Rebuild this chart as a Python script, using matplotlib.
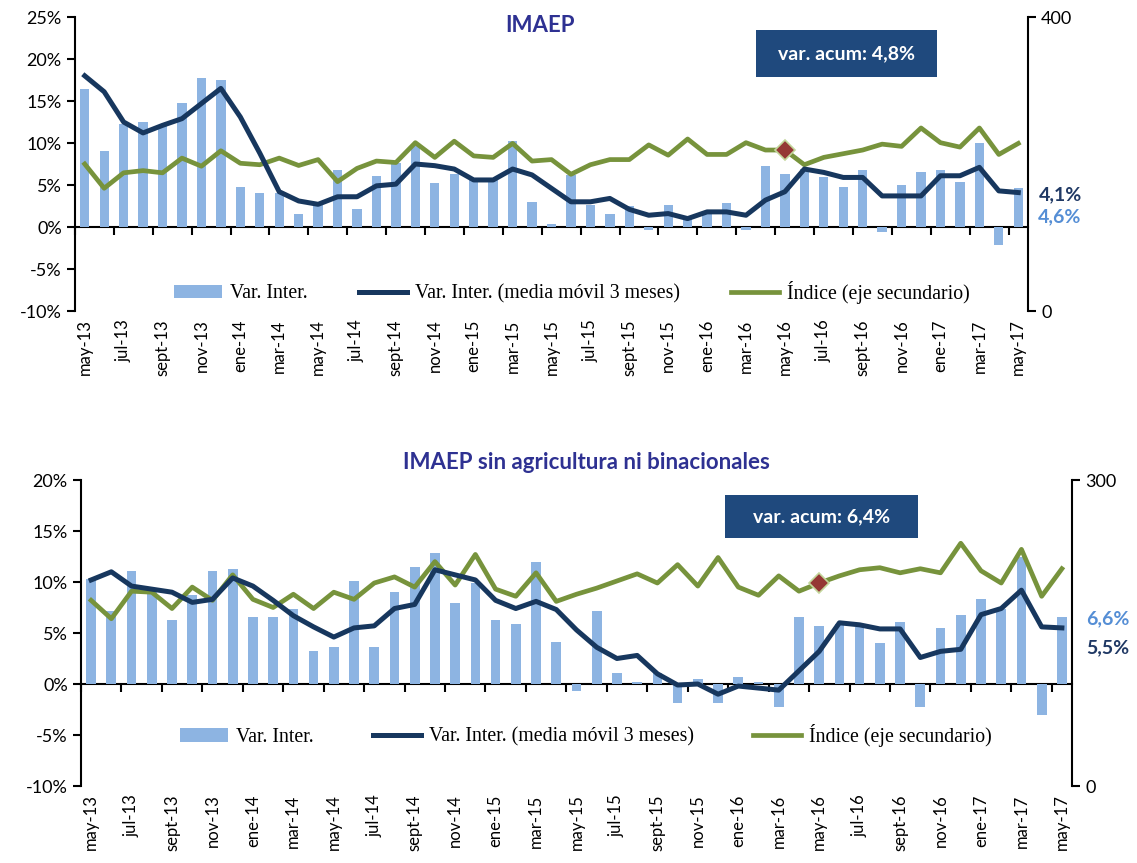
#! /usr/bin/env python
# IMAEP: variacion interanual, media movil y indice (eje secundario)
import numpy as np
import matplotlib.pyplot as plt
from matplotlib.patches import Rectangle
from matplotlib.ticker import FuncFormatter

# meses may-13 .. may-17
meses = ['may', 'jun', 'jul', 'ago', 'sept', 'oct', 'nov', 'dic', 'ene', 'feb', 'mar', 'abr']
fechas = []
anio = 13
for k in range(49):
    m = meses[k % 12]
    if m == 'ene' and k > 0:
        anio += 1
    fechas.append(m + '-' + str(anio))

# IMAEP
var_inter_1 = [16.4, 9.0, 12.3, 12.5, 12.1, 14.8, 17.7, 17.5, 4.8, 4.1, 4.0, 1.5, 2.8, 6.8, 2.1, 6.1,
               7.6, 9.6, 5.2, 6.3, 5.8, 5.6, 10.2, 3.0, 0.4, 6.2, 2.6, 1.5, 2.5, -0.3, 2.6, 1.3,
               1.8, 2.8, -0.4, 7.3, 6.3, 6.9, 5.9, 4.8, 6.8, -0.6, 5.0, 6.5, 6.8, 5.3, 10.0, -2.2, 4.6]
media_movil_1 = [18.0, 16.1, 12.5, 11.2, 12.1, 12.9, 14.7, 16.5, 13.1, 8.8, 4.2, 3.1, 2.7, 3.6, 3.6, 4.9,
                 5.1, 7.5, 7.3, 6.9, 5.6, 5.6, 6.9, 6.2, 4.6, 3.0, 3.0, 3.4, 2.1, 1.4, 1.6, 1.0,
                 1.8, 1.8, 1.4, 3.2, 4.2, 6.9, 6.5, 5.9, 5.9, 3.7, 3.7, 3.7, 6.1, 6.1, 7.1, 4.3, 4.1]
indice_1 = [200, 167, 188, 191, 188, 208, 197, 218, 201, 199, 208, 198, 206, 176, 194, 204,
            202, 229, 209, 231, 211, 209, 228, 204, 206, 186, 199, 206, 206, 226, 212, 234,
            213, 213, 229, 219, 219, 199, 209, 214, 219, 227, 224, 249, 229, 223, 249, 213, 228]

# IMAEP sin agricultura ni binacionales
var_inter_2 = [10.3, 7.2, 11.1, 9.0, 6.3, 8.7, 11.1, 11.3, 6.6, 6.6, 7.4, 3.2, 3.6, 10.1, 3.6, 9.0,
               11.5, 12.8, 7.9, 9.9, 6.3, 5.9, 12.0, 4.1, -0.7, 7.2, 1.1, 0.2, 1.1, -1.9, 0.5, -1.9,
               0.7, 0.2, -2.3, 6.6, 5.7, 5.9, 5.6, 4.0, 6.1, -2.3, 5.5, 6.8, 8.3, 7.4, 12.5, -3.0, 6.6]
media_movil_2 = [10.2, 11.0, 9.6, 9.3, 9.0, 8.0, 8.3, 10.4, 9.6, 8.2, 6.7, 5.6, 4.6, 5.5, 5.7, 7.4,
                 7.8, 11.2, 10.7, 10.2, 8.2, 7.4, 8.1, 7.3, 5.3, 3.6, 2.5, 2.8, 1.0, -0.1, 0.0, -1.0,
                 -0.2, -0.4, -0.6, 1.3, 3.2, 6.0, 5.8, 5.4, 5.4, 2.6, 3.2, 3.4, 6.8, 7.4, 9.2, 5.6, 5.5]
indice_2 = [182, 164, 191, 190, 174, 195, 182, 207, 183, 175, 188, 174, 190, 183, 199, 205,
            195, 220, 197, 227, 193, 186, 209, 181, 188, 194, 201, 208, 199, 217, 196, 224,
            195, 187, 206, 191, 199, 206, 212, 214, 209, 213, 209, 238, 211, 199, 232, 186, 213]

mes_marcado = 36  # may-16

azul_claro = '#8DB4E2'
azul_osc = '#17375E'
verde = '#77933C'
titulo_col = '#2E3192'
caja_col = '#1F497D'

W, H = 1137, 863
fig = plt.figure(figsize=(W / 100, H / 100), dpi=100)
sans = ['Lato', 'DejaVu Sans']
serif = {'family': 'Liberation Serif', 'size': 14.3}


def px(x0, y0, x1, y1):
    # rect en fraccion de figura desde pixeles
    return [x0 / W, 1 - y1 / H, (x1 - x0) / W, (y1 - y0) / H]


def panel(rect, var_inter, media_movil, indice, ymin, ymax, ymax2, legend_xy, colsp):
    x = np.arange(len(fechas))
    ax = fig.add_axes(rect)
    barras = ax.bar(x, var_inter, width=0.48, color=azul_claro, label='Var. Inter.')
    ax.set_xlim(-0.5, len(fechas) - 0.5)
    ax.set_ylim(ymin, ymax)
    ax.set_yticks(np.arange(ymin, ymax + 1, 5))
    ax.yaxis.set_major_formatter(FuncFormatter(lambda v, p: '%d%%' % v))
    ax.set_xticks(x[::2])
    ax.set_xticklabels(fechas[::2], rotation=90, family=sans, fontsize=12)
    ax.tick_params(axis='x', length=0, pad=6)
    ax.tick_params(axis='y', direction='out', length=6, width=1.5, labelsize=13)
    for t in ax.get_yticklabels():
        t.set_family(sans)
    for s in ['top', 'right', 'bottom']:
        ax.spines[s].set_visible(False)
    ax.spines['left'].set_linewidth(1.5)

    # eje en el cero con marcas cada dos meses
    cero = (0 - ymin) / (ymax - ymin)
    sec = ax.secondary_xaxis(cero)
    sec.set_alignment('bottom')
    sec.set_xticks(np.arange(-0.5, len(fechas), 2))
    sec.set_xticklabels([])
    sec.tick_params(direction='out', length=6, width=1.5)
    sec.spines['bottom'].set_linewidth(1.5)

    ax2 = ax.twinx()
    linea_ind, = ax2.plot(x, indice, color=verde, lw=3.4, label='Índice (eje secundario)')
    ax2.plot(x[mes_marcado], indice[mes_marcado], marker='D', ms=10,
             mfc='#953735', mec='#C3D69B', mew=1.2, ls='none')
    ax2.set_ylim(0, ymax2)
    ax2.set_yticks([0, ymax2])
    ax2.tick_params(direction='out', length=6, width=1.5, labelsize=13)
    for t in ax2.get_yticklabels():
        t.set_family(sans)
    for s in ['top', 'left', 'bottom']:
        ax2.spines[s].set_visible(False)
    ax2.spines['right'].set_linewidth(1.5)

    ax3 = ax.twinx()
    linea_mm, = ax3.plot(x, media_movil, color=azul_osc, lw=3.6,
                         label='Var. Inter. (media móvil 3 meses)')
    ax3.set_ylim(ymin, ymax)
    ax3.axis('off')

    ax3.legend([barras, linea_mm, linea_ind],
               ['Var. Inter.', 'Var. Inter. (media móvil 3 meses)', 'Índice (eje secundario)'],
               loc='center', bbox_to_anchor=(legend_xy[0] / W, 1 - legend_xy[1] / H),
               bbox_transform=fig.transFigure, ncol=3, frameon=False, prop=serif,
               handlelength=2.4, handletextpad=0.4, columnspacing=colsp)
    return ax


panel(px(75, 17, 1028, 311), var_inter_1, media_movil_1, indice_1, -10, 25, 400, (572, 292), 2.6)
panel(px(81, 480, 1072, 786), var_inter_2, media_movil_2, indice_2, -10, 20, 300, (586, 735), 3.0)

# titulos
fig.text(540 / W, 1 - 26 / H, 'IMAEP', ha='center', va='center', family=sans,
         fontsize=16, fontweight='bold', color=titulo_col)
fig.text(586 / W, 1 - 462 / H, 'IMAEP sin agricultura ni binacionales', ha='center', va='center',
         family=sans, fontsize=16, fontweight='bold', color=titulo_col)

# cajas de variacion acumulada
for (x0, y0, x1, y1), txt in [((756, 30, 937, 77), 'var. acum: 4,8%'),
                              ((725, 495, 918, 538), 'var. acum: 6,4%')]:
    r = px(x0, y0, x1, y1)
    fig.add_artist(Rectangle((r[0], r[1]), r[2], r[3], transform=fig.transFigure,
                             facecolor=caja_col, edgecolor='none'))
    fig.text(r[0] + r[2] / 2, r[1] + r[3] / 2, txt, ha='center', va='center', family=sans,
             fontsize=14, fontweight='bold', color='white')

# ultimos valores
fig.text(1060 / W, 1 - 195 / H, '4,1%', ha='center', va='center', family=sans,
         fontsize=14, fontweight='bold', color='#1F3864')
fig.text(1060 / W, 1 - 217 / H, '4,6%', ha='center', va='center', family=sans,
         fontsize=14, fontweight='bold', color='#558ED5')
fig.text(1108 / W, 1 - 619 / H, '6,6%', ha='center', va='center', family=sans,
         fontsize=14, fontweight='bold', color='#558ED5')
fig.text(1108 / W, 1 - 648 / H, '5,5%', ha='center', va='center', family=sans,
         fontsize=14, fontweight='bold', color='#1F3864')

plt.savefig('out.png', dpi=100)
